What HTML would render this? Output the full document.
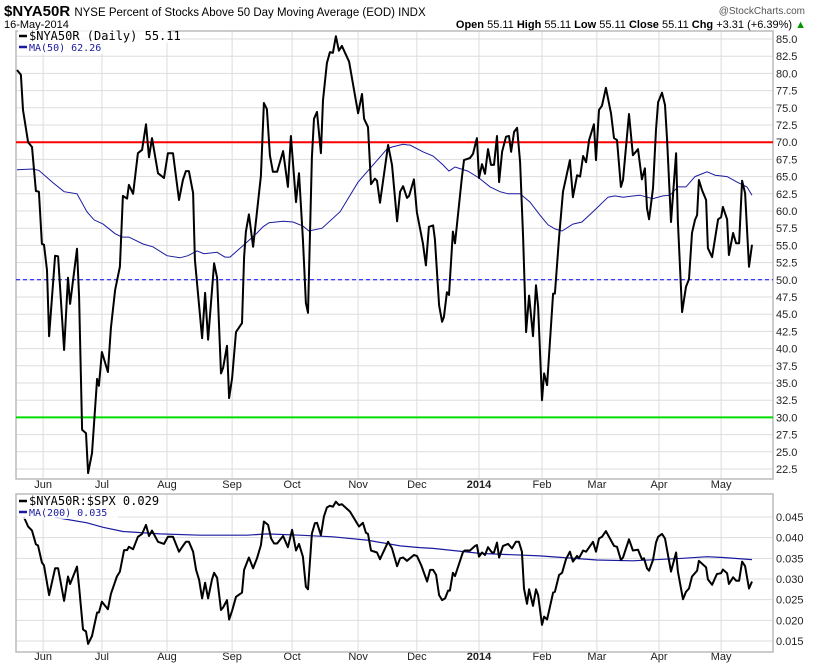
<!DOCTYPE html>
<html><head><meta charset="utf-8"><style>
body{margin:0;background:#fff;}
svg{display:block;font-family:"Liberation Sans",sans-serif;}
</style></head><body>
<svg id="c" width="820" height="668" viewBox="0 0 820 668">
<text x="4" y="16" font-size="15" font-weight="bold">$NYA50R <tspan font-size="11.5" font-weight="normal">NYSE Percent of Stocks Above 50 Day Moving Average (EOD)  INDX</tspan></text>
<text x="805" y="14" font-size="10" fill="#555" text-anchor="end">@StockCharts.com</text>
<text x="4" y="28" font-size="11">16-May-2014</text>
<text x="806" y="28" font-size="11" text-anchor="end"><tspan font-weight="bold">Open</tspan> 55.11 <tspan font-weight="bold">High</tspan> 55.11 <tspan font-weight="bold">Low</tspan> 55.11 <tspan font-weight="bold">Close</tspan> 55.11 <tspan font-weight="bold">Chg</tspan> +3.31 (+6.39%) <tspan fill="#090">▲</tspan></text>
<g id="main"></g>
<g id="low"></g>
</svg>
<script>
const NS="http://www.w3.org/2000/svg";
const months=["Jun","Jul","Aug","Sep","Oct","Nov","Dec","2014","Feb","Mar","Apr","May"];
const monthDays=[8.7,28.3,50,71.7,91.7,113.7,133.3,154,175,193.3,214,234.7];
const mainTicks=[22.5,25,27.5,30,32.5,35,37.5,40,42.5,45,47.5,50,52.5,55,57.5,60,62.5,65,67.5,70,72.5,75,77.5,80,82.5,85];
const lowTicks=[0.015,0.02,0.025,0.03,0.035,0.04,0.045];
const priceDays=[0,1.3,2,3.7,5,6.3,7.3,8.3,9,10,10.7,12.7,13.7,15.7,17,17.7,20,20.7,21.7,23,23.7,25,26.7,27.3,28.3,30.3,31.3,32.7,34.3,35.3,36.7,37.3,38.7,40.3,41.7,43,44,45,47,49,50.3,52,54,55.3,56.3,57.3,58.7,59.3,61.7,62.7,63.7,65.7,66.7,68,68.7,70,70.7,71.7,73,75,75.7,76.3,77.3,78.7,79.7,81.3,82.3,83.3,84.3,85.3,86.7,88.7,90.3,91.3,93,94,95.3,96.3,97,98.3,99,100,101.3,102,103.3,104.3,105.3,106.3,107.3,108.3,110.7,113.7,115,115.7,117,118,119.3,120,121,123.7,125,126.7,127.7,128.7,130,130.7,132.3,133.3,135.3,136.3,137.3,138.7,139.3,140.7,141.7,142.3,143.3,144,145.3,146,148.3,149,151,152,153.3,154,155,156,157,158,159,160,160.7,161.7,163,164,164.7,165.7,166.7,167.7,168.7,169.7,170.7,172,173,173.7,175,175.7,176.7,178.7,179.3,180.7,182,184.3,185.3,186.7,187.7,188.7,189.7,190.7,192.3,193,194,195,196.3,198,199,200,201.3,202,204,205.3,207,208.3,209.3,210,210.7,212,213,213.7,215,216,216.7,218,219.7,220.3,221.7,223,224,225,226,226.7,227.3,228.3,229.7,230.3,231.7,233.7,234.7,235.3,236.7,237.3,238.7,239.7,240.7,241.7,242.7,244,245];
const priceVals=[80.5,79.8,74.7,70,69.3,62.9,62.8,55.2,55.1,51.4,41.8,53.5,53.4,39.8,50.3,46.5,54.5,47.5,28.2,27.7,21.9,24.8,35.6,34.6,39.5,36.6,43,48.5,51.9,62.2,61.8,63.8,62.5,68.4,68.9,72.6,67.8,70.6,65.5,64.8,68.4,68.4,61.6,64.5,65.8,65.8,62.6,52.9,41.5,48.1,41.3,52.4,50.3,36.4,37.2,40.4,32.8,35.7,42.4,43.7,53.3,57,59.5,54.8,58.7,65.1,75.7,74.8,68.1,65.7,65.7,68.7,63.5,70.9,61.3,65.5,55.9,46.6,45.2,67.8,73.4,74.4,68.4,76.1,81.5,83.1,83,85.4,83.3,84,81.7,74.2,77,73.4,72.2,63.9,64.7,64.4,61.2,69.6,66.7,58.5,62.8,63.6,61.9,62.2,64.6,59.8,55.3,52.1,57.7,57.9,55.9,46.3,43.9,44.6,48.2,47.8,57,55.3,64.9,67.4,67.7,68.3,70.6,64.8,66.8,65.4,69,66.7,66.7,70.9,64.2,68.6,70.8,70.9,68.6,71.5,72.1,67.1,56.2,42.4,47.7,41.8,49.2,46.1,32.5,36.4,34.7,48,48,56.2,62.8,67.4,62,65.2,65,68,67.1,70.3,72.6,67.4,74.7,75.3,77.9,74.2,70.6,70.3,63.5,64.5,74.1,68.1,69,64.6,66.2,60.4,58.8,63.3,71.8,75.8,77.2,75.4,70.3,58.4,68.4,58.4,45.3,49,50.1,56.8,58.7,59.4,64.5,63.1,61.6,54.6,53.3,58.8,59.1,60.6,58.8,53.6,56.8,55.3,55.3,64.4,62.6,51.9,55.1];
const maDays=[0,5.3,7.3,12,15.7,20,23.3,25.7,28.7,32.7,35,37.3,42,45.3,50,54.3,57,60,62.3,66.7,69.3,71,76.7,80,82,84,88.7,92,95.3,97.3,101.7,107.7,113.7,117.7,123.3,125,128.7,130.3,131,135.3,138.7,142,144,146,150.3,154,157.7,161,163.7,167.7,171,174.3,177,179.3,181.7,185.3,188.3,192,197,199.3,202,207.7,210,212,215.3,217.7,220.3,223,226,230,232.7,236.7,240,243.3,245];
const maVals=[66,66.1,65.9,64.1,62.8,62.5,59.9,58.7,58.1,56.7,56.2,56.2,55.2,54.8,53.5,53.2,53.5,54.2,53.8,54,53.3,53.3,55.5,56.8,57.7,58.3,58.5,58.4,57.8,57.1,57.5,59.9,64.2,66.2,69,69.3,69.7,69.6,69.6,68.6,68,66.7,65.8,66.4,65.8,64.8,63.5,62.8,62.5,62.5,61.3,59.4,58,57.4,57.1,58.1,58.4,59.9,62,62.2,62,62.3,62,61.8,62.2,62.3,63.5,63.5,65,65.7,65.2,65,64.2,63.5,62.3];
const ratioDays=[2.3,3.7,5,6.3,7,8.3,9,10.7,12.7,13.7,15.7,17,17.7,20,20.7,22,23,23.7,25,26.7,27.3,28.3,30.3,31.3,33.3,34.3,35.7,36.7,37.3,38.7,40.3,41.7,43,44,45,47,49,50.3,52,54,55.3,56.3,57.3,58.7,59.7,60.7,61.7,62.7,63.7,65,65.7,66.7,68,68.7,70,70.7,71.7,73,75,75.7,77.3,78.7,80,81.3,82.3,83.7,84.7,85.7,86.7,88.7,90.3,91.7,93,94,95.3,96.3,97,98.3,99.3,100,101.3,102.3,103.3,104.3,105.3,106.3,107.3,108.3,111,114,115.3,116.3,117,118,120,121,123.7,125,126.7,127.7,128.7,130,132.3,133.3,134.7,136.7,137.7,138.7,139.7,140.7,141.7,142.7,143.7,144.3,145.3,146,148.7,149.3,151,152.7,153.3,154,155,156,157,158.3,159,160,160.7,162,163.7,165,166.3,167.3,168.3,169,170,170.7,172,173,173.7,175,175.7,176.7,178.7,179.3,180.7,181.7,183,184.3,185.3,186.7,187.3,188.7,189.7,192,193,194,195,196.3,199,200,201.3,202,204,205.3,207,208.3,209,210,210.7,212,213,213.7,215,216,216.7,218,219.7,220.3,222,223,224,225,226.7,227.3,229.7,230.3,231.7,233.3,234.7,235.3,236.7,237.3,238.7,239.7,240.7,241.7,242.7,244,245];
const ratioVals=[0.045,0.0427,0.0417,0.0384,0.0381,0.034,0.0333,0.0261,0.0326,0.0326,0.0247,0.0306,0.0288,0.033,0.0281,0.0178,0.0173,0.0143,0.0162,0.0219,0.0219,0.0245,0.0227,0.0264,0.0306,0.0318,0.037,0.037,0.0378,0.0372,0.0402,0.0409,0.0431,0.0404,0.0417,0.039,0.0385,0.0402,0.0402,0.0366,0.038,0.039,0.039,0.0366,0.0322,0.0298,0.0253,0.0291,0.0253,0.0299,0.0315,0.0303,0.0225,0.0231,0.0249,0.0202,0.0223,0.0257,0.0267,0.0322,0.0352,0.0326,0.035,0.0382,0.0439,0.0431,0.0398,0.0386,0.0386,0.0404,0.0377,0.0419,0.0369,0.0385,0.0354,0.0281,0.0275,0.041,0.0435,0.0436,0.0406,0.0451,0.0473,0.0477,0.0475,0.0487,0.0479,0.0481,0.0463,0.0427,0.0436,0.0412,0.0409,0.0369,0.0364,0.0348,0.039,0.0374,0.0331,0.035,0.0352,0.0344,0.0358,0.0356,0.0334,0.0294,0.0322,0.0322,0.031,0.0261,0.0249,0.0253,0.0272,0.0272,0.0315,0.0307,0.0366,0.0369,0.0369,0.038,0.0382,0.0354,0.0364,0.0358,0.0377,0.0364,0.0364,0.0388,0.0352,0.038,0.0385,0.0374,0.039,0.039,0.0366,0.0277,0.024,0.0275,0.0235,0.0275,0.0261,0.0189,0.0209,0.0202,0.0267,0.0269,0.031,0.0315,0.0348,0.0366,0.0342,0.0356,0.035,0.0369,0.0366,0.039,0.0366,0.0398,0.0402,0.0416,0.038,0.0378,0.0346,0.0352,0.0396,0.0369,0.0371,0.0348,0.035,0.0326,0.032,0.0346,0.0388,0.0402,0.0409,0.0398,0.037,0.0318,0.0364,0.0318,0.0251,0.0269,0.0277,0.0306,0.032,0.0344,0.0328,0.0299,0.0286,0.0312,0.0314,0.0323,0.0314,0.0288,0.0304,0.0296,0.0296,0.0342,0.0331,0.0277,0.0294];
const ma200Days=[12.7,23.3,28.7,35.3,47.7,61,76.7,83.3,94.3,105.3,116.7,127.7,134.3,138.7,154.3,174.3,193.3,205.3,222,230,235.3,245];
const ma200Vals=[0.0449,0.0436,0.0425,0.0415,0.0409,0.0406,0.0406,0.0409,0.0406,0.0402,0.0394,0.038,0.0376,0.0374,0.0362,0.0356,0.0346,0.0344,0.035,0.0354,0.0352,0.0347];

const X0=16,X1=773;
const xs=d=>17+d*(752-17)/245;
const yMain=v=>39+(85-v)*(430/62.5);
const yLow=v=>517+(0.045-v)*(124/0.03);
function el(p,tag,attrs){const e=document.createElementNS(NS,tag);for(const k in attrs)e.setAttribute(k,attrs[k]);p.appendChild(e);return e;}
function path(days,vals,yf){return days.map((d,i)=>(i?"L":"M")+xs(d).toFixed(1)+","+yf(vals[i]).toFixed(1)).join("");}
const main=document.getElementById("main"),low=document.getElementById("low");

function panel(g,top,bot,ticks,yf,fmt,labelTopY,labelBotY){
  for(const t of ticks){
    const l=el(g,"line",{x1:X0,x2:X1,y1:yf(t),y2:yf(t),stroke:"#ddd","stroke-width":1});
    
    
    const tx=el(g,"text",{x:776,y:yf(t)+4,"font-size":11,fill:"#222"});tx.textContent=fmt(t);
    
    
  }
  monthDays.forEach((d,i)=>{
    const l=el(g,"line",{x1:xs(d),x2:xs(d),y1:top,y2:bot,stroke:"#ddd","stroke-width":1});
    
    
    for(const yy of [labelTopY,labelBotY]){ if(yy==null)continue;
      const tx=el(g,"text",{x:xs(d),y:yy,"font-size":11,"text-anchor":"middle",fill:"#222","font-weight":months[i]==="2014"?"bold":"normal"});tx.textContent=months[i];
      
      
    }
  });
  const r=el(g,"rect",{x:X0,y:top,width:X1-X0,height:bot-top,fill:"none",stroke:"#bbb","stroke-width":1.5});
  
  
}
panel(main,31,479,mainTicks,yMain,v=>v.toFixed(1),null,488);
panel(low,494,652,lowTicks,yLow,v=>v.toFixed(3),null,660);

function hline(g,v,color,w,dash,name){const l=el(g,"line",{x1:X0,x2:X1,y1:yMain(v),y2:yMain(v),stroke:color,"stroke-width":w});if(dash)l.setAttribute("stroke-dasharray",dash);
  
  }
hline(main,70,"#f00",2,null,"overbought-line-70");
hline(main,50,"#00f",1,"4,3","midline-50");
hline(main,30,"#0d0",2,null,"oversold-line-30");

const ma=el(main,"path",{d:path(maDays,maVals,yMain),fill:"none",stroke:"#1a1aa0","stroke-width":1});


const pr=el(main,"path",{d:path(priceDays,priceVals,yMain),fill:"none",stroke:"#000","stroke-width":2,"stroke-linejoin":"round"});


const m2=el(low,"path",{d:path(ma200Days,ma200Vals,yLow),fill:"none",stroke:"#1a1aa0","stroke-width":1.2});


const rl=el(low,"path",{d:path(ratioDays,ratioVals,yLow),fill:"none",stroke:"#000","stroke-width":2,"stroke-linejoin":"round"});



function legend(g,y,color,text,name,size){
  const bg=el(g,"rect",{x:18,y:y-10,width:text.length*6.6+14,height:13,fill:"#fff","fill-opacity":0.8});
  
  
  const s=el(g,"line",{x1:19,x2:27,y1:y-4,y2:y-4,stroke:color,"stroke-width":2.5});
  
  
  const t=el(g,"text",{x:29,y:y,"font-size":size,fill:color,"font-family":"DejaVu Sans Mono, Liberation Mono, monospace"});t.textContent=text;
  
  
}
legend(main,40,"#000","$NYA50R (Daily) 55.11","legend-nya50r",12);
legend(main,51,"#1a1aa0","MA(50) 62.26","legend-ma50",10);
legend(low,505,"#000","$NYA50R:$SPX 0.029","legend-ratio",12);
legend(low,516,"#1a1aa0","MA(200) 0.035","legend-ma200",10);
</script>
</body></html>
